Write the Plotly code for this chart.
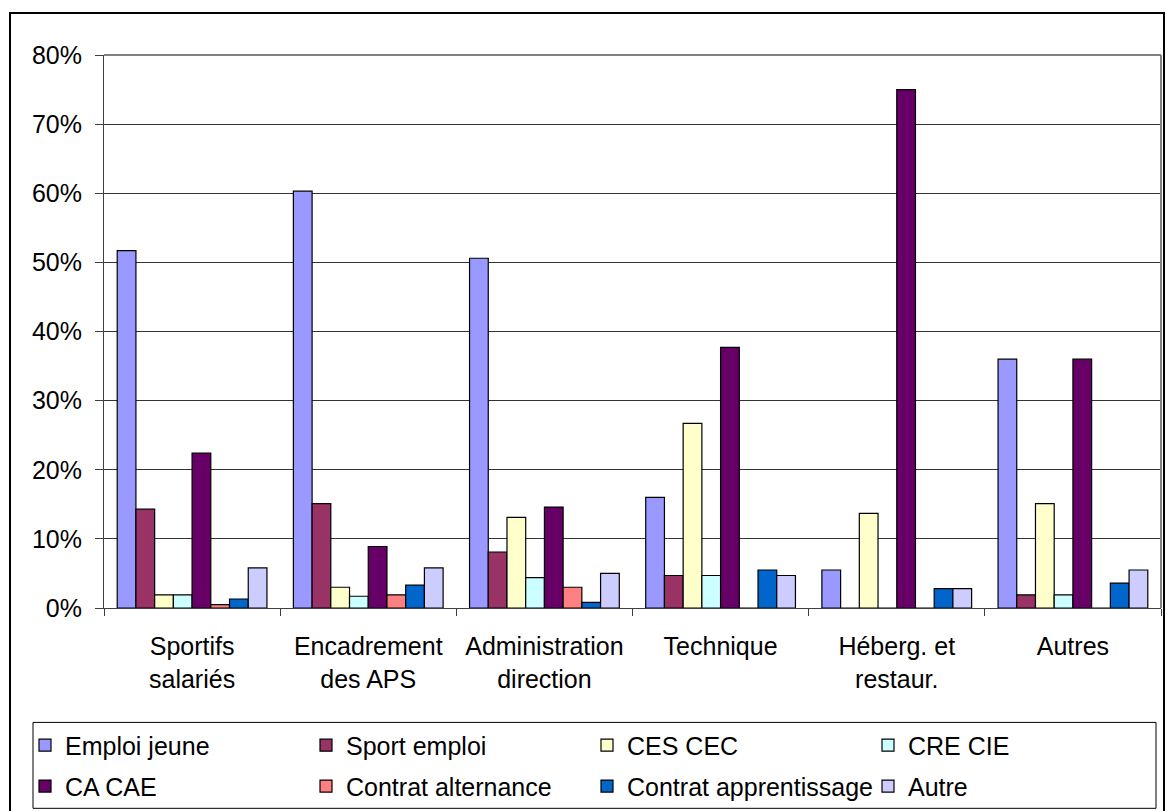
import plotly.graph_objects as go

categories = ["Sportifs<br>salariés", "Encadrement<br>des APS", "Administration<br>direction",
              "Technique", "Héberg. et<br>restaur.", "Autres"]

series_names = ["Emploi jeune", "Sport emploi", "CES CEC", "CRE CIE",
                "CA CAE", "Contrat alternance", "Contrat apprentissage", "Autre"]

emploi_jeune = [51.7, 60.3, 50.6, 16.0, 5.5, 36.0]
sport_emploi = [14.3, 15.1, 8.1, 4.7, 0, 1.9]
ces_cec = [1.9, 3.0, 13.1, 26.7, 13.7, 15.1]
cre_cie = [1.9, 1.7, 4.4, 4.7, 0, 1.9]
ca_cae = [22.4, 8.9, 14.6, 37.7, 75.0, 36.0]
contrat_alternance = [0.5, 1.9, 3.0, 0, 0, 0]
contrat_apprentissage = [1.3, 3.3, 0.8, 5.5, 2.8, 3.6]
autre = [5.8, 5.8, 5.0, 4.7, 2.8, 5.5]

values = [emploi_jeune, sport_emploi, ces_cec, cre_cie,
          ca_cae, contrat_alternance, contrat_apprentissage, autre]
colors = ["#9999FF", "#993366", "#FFFFCC", "#CCFFFF",
          "#660066", "#FF8080", "#0066CC", "#CCCCFF"]

FONT = "Liberation Sans, Arial, sans-serif"

fig = go.Figure()
for i, (name, vals, col) in enumerate(zip(series_names, values, colors)):
    fig.add_trace(go.Bar(
        x=categories, y=vals, name=name,
        marker=dict(color=col, line=dict(color="black", width=1.2)),
        legend="legend" if i < 4 else "legend2",
    ))

W, H = 1166, 811
L, R, T, B = 104, 5, 55, 811 - 608.5
pw, ph = W - L - R, H - T - B


def px(x):
    # page pixel -> paper x
    return (x - L) / pw


def py(y):
    # page pixel -> paper y
    return (H - B - y) / ph


legend_common = dict(
    orientation="h", xanchor="left", yanchor="middle",
    font=dict(family=FONT, size=25, color="black"),
    bgcolor="rgba(0,0,0,0)", borderwidth=0,
    entrywidth=236, entrywidthmode="pixels",
    traceorder="normal",
)

fig.update_layout(
    width=W, height=H,
    margin=dict(l=L, r=R, t=T, b=B, autoexpand=False),
    paper_bgcolor="white", plot_bgcolor="white",
    font=dict(family=FONT, size=25, color="black"),
    barmode="group", bargap=0.15, bargroupgap=0,
    legend=dict(x=px(25), y=py(746), **legend_common),
    legend2=dict(x=px(25), y=py(787), **legend_common),
    xaxis=dict(
        showline=True, linecolor="#404040", linewidth=1,
        ticks="outside", ticklen=7, tickcolor="#404040", tickson="boundaries",
        showgrid=False, ticklabelstandoff=16,
        tickfont=dict(family=FONT, size=25, color="black"),
    ),
    yaxis=dict(
        range=[0, 80], dtick=10, ticksuffix="%",
        showline=True, linecolor="#404040", linewidth=1,
        ticks="outside", ticklen=8, tickcolor="#404040",
        showgrid=True, gridcolor="#333333", gridwidth=1,
        zeroline=False, ticklabelstandoff=8,
        tickfont=dict(family=FONT, size=25, color="black"),
    ),
    shapes=[
        # plot area border (top / right)
        dict(type="line", xref="paper", yref="paper", x0=0, x1=1, y0=1, y1=1,
             line=dict(color="#808080", width=2)),
        dict(type="line", xref="paper", yref="paper", x0=1, x1=1, y0=0, y1=1,
             line=dict(color="#808080", width=2)),
        # legend box
        dict(type="rect", xref="paper", yref="paper",
             x0=px(33), x1=px(1156), y0=py(809), y1=py(723),
             line=dict(color="black", width=1)),
        # chart border
        dict(type="rect", xref="paper", yref="paper",
             x0=px(10), x1=px(1164), y0=py(815), y1=py(13),
             line=dict(color="black", width=2)),
    ],
)

# drop the browser's default body margin so the figure fills the window
fig.write_html("out.html", config={"displayModeBar": False},
               post_script="document.body.style.margin = '0';")
